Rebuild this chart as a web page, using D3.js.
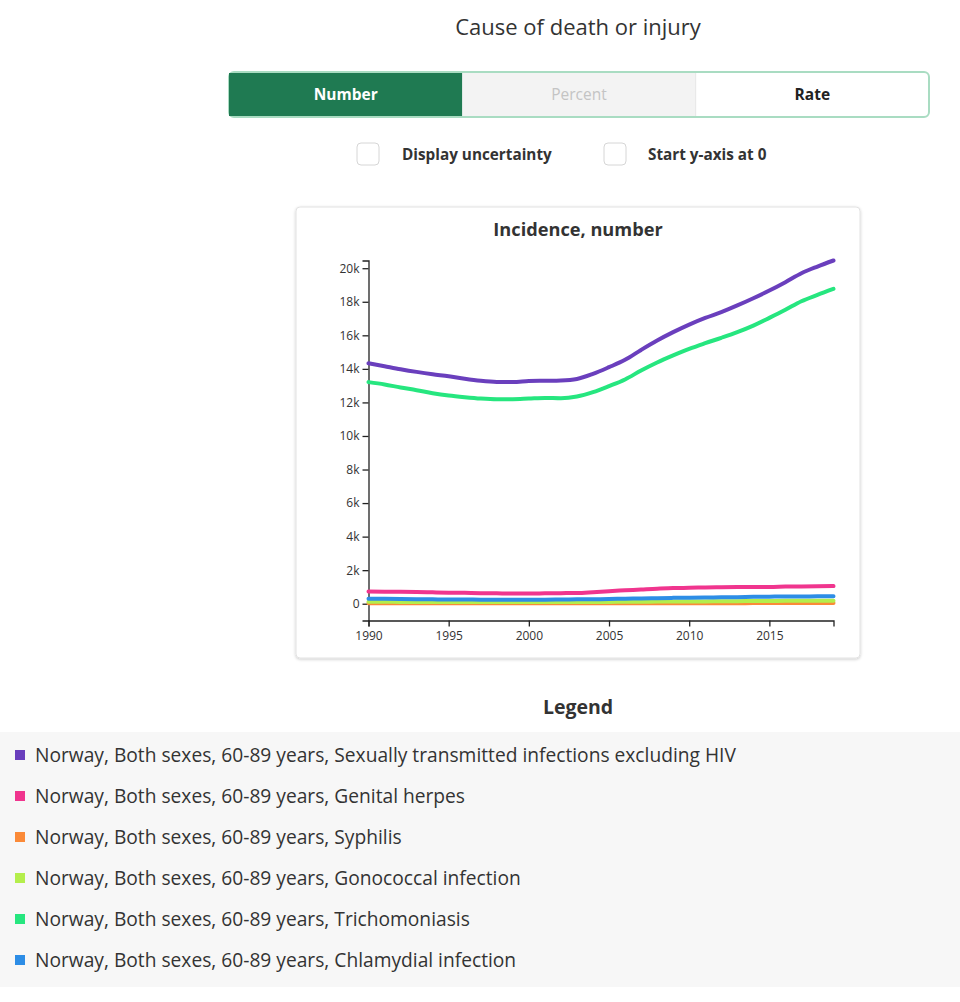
<!DOCTYPE html>
<html lang="en">
<head>
<meta charset="UTF-8">
<title>Incidence, number</title>
<style>
  body { margin: 0; background: #fff; }
  text { font-family: "Open Sans", Lato, sans-serif; fill: #333; }
</style>
</head>
<body>
<div id="chart"></div>
<script src="https://d3js.org/d3.v7.min.js"></script>
<script>
// years 1990..2019
var years = d3.range(1990, 2020);

var causes = [
  "Sexually transmitted infections excluding HIV",
  "Genital herpes",
  "Syphilis",
  "Gonococcal infection",
  "Trichomoniasis",
  "Chlamydial infection"
];

var colors = ["#6a3fbd", "#f0358e", "#fb8a38", "#b4ee4c", "#26e67f", "#2d8de6"];

// values (thousands)
var stiTotal = [14.34, 14.16, 13.98, 13.82, 13.68, 13.56, 13.41, 13.29, 13.22, 13.21,
                13.27, 13.29, 13.31, 13.40, 13.70, 14.10, 14.54, 15.13, 15.69, 16.19,
                16.64, 17.04, 17.38, 17.78, 18.21, 18.67, 19.17, 19.70, 20.10, 20.46];
var herpes   = [0.73, 0.72, 0.71, 0.70, 0.68, 0.66, 0.65, 0.63, 0.62, 0.61,
                0.61, 0.62, 0.63, 0.64, 0.69, 0.75, 0.80, 0.85, 0.90, 0.93,
                0.95, 0.97, 0.98, 0.99, 1.00, 1.00, 1.02, 1.03, 1.04, 1.05];
var syphilis = [0.03, 0.03, 0.03, 0.03, 0.03, 0.03, 0.03, 0.03, 0.03, 0.03,
                0.03, 0.03, 0.03, 0.03, 0.03, 0.03, 0.03, 0.03, 0.03, 0.03,
                0.03, 0.03, 0.03, 0.03, 0.04, 0.04, 0.04, 0.04, 0.04, 0.04];
var gono     = [0.12, 0.12, 0.11, 0.11, 0.11, 0.10, 0.10, 0.10, 0.10, 0.10,
                0.10, 0.10, 0.10, 0.10, 0.11, 0.11, 0.12, 0.12, 0.13, 0.13,
                0.14, 0.14, 0.15, 0.15, 0.16, 0.16, 0.17, 0.17, 0.18, 0.18];
var trich    = [13.21, 13.07, 12.89, 12.73, 12.55, 12.41, 12.31, 12.23, 12.19, 12.19,
                12.23, 12.27, 12.25, 12.35, 12.61, 12.97, 13.37, 13.90, 14.38, 14.80,
                15.19, 15.53, 15.85, 16.19, 16.58, 17.04, 17.52, 18.03, 18.41, 18.77];
var chlamydia = [0.30, 0.29, 0.28, 0.27, 0.26, 0.25, 0.25, 0.24, 0.24, 0.24,
                0.24, 0.24, 0.25, 0.26, 0.27, 0.28, 0.30, 0.31, 0.33, 0.35,
                0.36, 0.37, 0.38, 0.39, 0.41, 0.42, 0.43, 0.43, 0.44, 0.44];

var seriesValues = [stiTotal, herpes, syphilis, gono, trich, chlamydia];

var yTicks = [0, 2000, 4000, 6000, 8000, 10000, 12000, 14000, 16000, 18000, 20000];
var xTicks = [1990, 1995, 2000, 2005, 2010, 2015];
var buttons = ["Number", "Percent", "Rate"];
var checks = ["Display uncertainty", "Start y-axis at 0"];

var W = 960, H = 1002;
var svg = d3.select("#chart").append("svg")
    .attr("width", W).attr("height", H);

var defs = svg.append("defs");
var f = defs.append("filter").attr("id", "shadow")
    .attr("x", "-5%").attr("y", "-5%").attr("width", "110%").attr("height", "110%");
f.append("feDropShadow").attr("dx", 0).attr("dy", 1).attr("stdDeviation", 1.5)
    .attr("flood-color", "#000").attr("flood-opacity", 0.2);

// page title
svg.append("text")
    .attr("x", 578).attr("y", 35)
    .attr("text-anchor", "middle")
    .style("font-size", "22px")
    .text("Cause of death or injury");

// segmented buttons
var btnX = d3.scaleBand().domain(buttons).range([229, 929]);
var btn = svg.append("g");
btn.append("rect")
    .attr("x", 229).attr("y", 72).attr("width", 700).attr("height", 45)
    .attr("rx", 5).attr("fill", "#fff")
    .attr("stroke", "#a9dcc2").attr("stroke-width", 2);
btn.selectAll(".seg")
    .data(buttons.slice(0, 2))
    .enter().append("rect")
    .attr("x", function(d) { return btnX(d); })
    .attr("y", 73).attr("height", 43)
    .attr("width", btnX.bandwidth())
    .attr("fill", function(d, i) { return i == 0 ? "#1f7a52" : "#f3f3f3"; });
btn.append("line")
    .attr("x1", btnX("Rate")).attr("x2", btnX("Rate"))
    .attr("y1", 73).attr("y2", 116).attr("stroke", "#e6e6e6");
btn.selectAll(".lbl")
    .data(buttons)
    .enter().append("text")
    .attr("x", function(d) { return btnX(d) + btnX.bandwidth() / 2; })
    .attr("y", 100)
    .attr("text-anchor", "middle")
    .style("font-size", "15.5px")
    .style("font-weight", function(d, i) { return i == 1 ? "normal" : "bold"; })
    .style("fill", function(d, i) { return i == 0 ? "#fff" : (i == 1 ? "#c4c4c4" : "#222"); })
    .text(function(d) { return d; });

// checkboxes
var checkX = [357, 604];
var cb = svg.selectAll(".check")
    .data(checks)
    .enter().append("g")
    .attr("transform", function(d, i) { return "translate(" + checkX[i] + ",143)"; });
cb.append("rect")
    .attr("width", 22).attr("height", 22).attr("rx", 4)
    .attr("fill", "#fff").attr("stroke", "#d6d6d6");
cb.append("text")
    .attr("x", function(d, i) { return i == 0 ? 45 : 44; })
    .attr("y", 17)
    .style("font-size", "15.3px").style("font-weight", "bold")
    .text(function(d) { return d; });

// chart card
svg.append("rect")
    .attr("x", 296).attr("y", 207).attr("width", 564).attr("height", 451)
    .attr("rx", 4).attr("fill", "#fff").attr("stroke", "#e2e2e2")
    .attr("filter", "url(#shadow)");
svg.append("text")
    .attr("x", 578).attr("y", 236)
    .attr("text-anchor", "middle")
    .style("font-size", "18.2px").style("font-weight", "bold")
    .text("Incidence, number");

var rows = years.map(function(y, i) {
    var r = { year: y };
    seriesValues.forEach(function(s, j) { r[j] = s[i] * 1000; });
    return r;
});

var x = d3.scaleLinear().domain([1990, 2019]).range([368.5, 833.5]);
var y = d3.scaleLinear()
    .domain([-1000, d3.max(stiTotal) * 1000])
    .range([620.5, 260.5]);

var gx = svg.append("g")
    .attr("transform", "translate(0," + y(-1000) + ")")
    .call(d3.axisBottom(x).tickValues(xTicks).tickFormat(d3.format("d")).tickSize(6));
var gy = svg.append("g")
    .attr("transform", "translate(" + x(1990) + ",0)")
    .call(d3.axisLeft(y).tickValues(yTicks)
        .tickFormat(function(d) { return d == 0 ? "0" : (d / 1000) + "k"; }).tickSize(6));
[gx, gy].forEach(function(g) {
    g.selectAll("path, line").attr("stroke", "#222").attr("stroke-width", 1.3);
    g.selectAll("text").style("font-family", "'Open Sans', sans-serif")
        .style("font-size", "12px").style("fill", "#333");
});
gx.selectAll("text").attr("dy", "0.85em");

var line = d3.line()
    .curve(d3.curveMonotoneX)
    .x(function(d) { return x(d.year); });

// draw small series first so the big ones sit on top
var order = [2, 3, 5, 1, 4, 0];
svg.append("g").selectAll("path")
    .data(order)
    .enter().append("path")
    .attr("fill", "none")
    .attr("stroke", function(j) { return colors[j]; })
    .attr("stroke-width", 4)
    .attr("stroke-linecap", "round")
    .attr("d", function(j) {
        return line.y(function(d) { return y(d[j]); })(rows);
    });

// legend
svg.append("text")
    .attr("x", 578).attr("y", 714)
    .attr("text-anchor", "middle")
    .style("font-size", "19.5px").style("font-weight", "bold")
    .text("Legend");
svg.append("rect")
    .attr("x", 0).attr("y", 732).attr("width", W).attr("height", 255)
    .attr("fill", "#f7f7f7");

var leg = svg.selectAll(".leg")
    .data(causes)
    .enter().append("g")
    .attr("transform", function(d, i) { return "translate(0," + (755 + i * 41) + ")"; });
leg.append("rect")
    .attr("x", 15).attr("y", -5).attr("width", 10).attr("height", 10)
    .attr("fill", function(d, i) { return colors[i]; });
leg.append("text")
    .attr("x", 35).attr("y", 7)
    .style("font-size", "19.2px")
    .text(function(d) { return "Norway, Both sexes, 60-89 years, " + d; });
</script>
</body>
</html>
